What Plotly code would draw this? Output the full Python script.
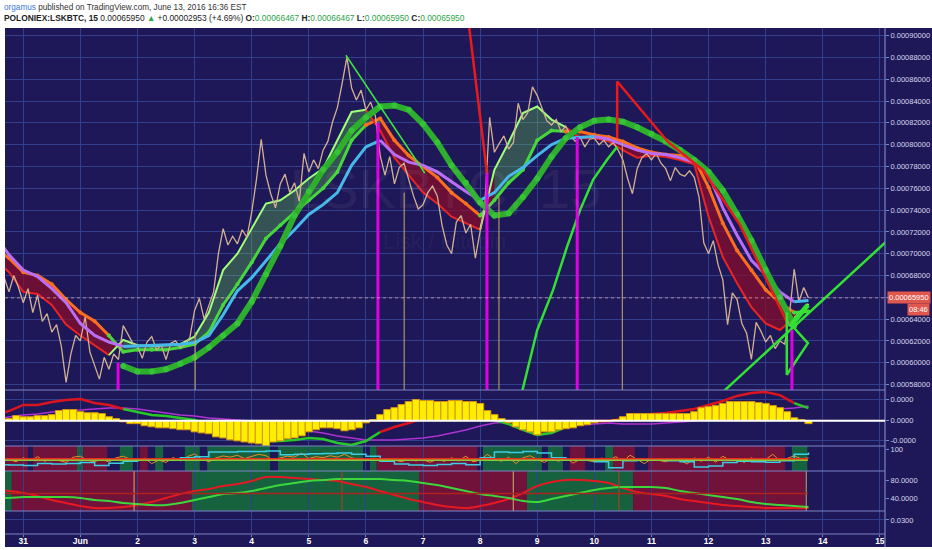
import numpy as np
import plotly.graph_objects as go
from plotly.subplots import make_subplots

# Ось времени: дни от 31 мая 2016 00:00 (31 мая = 0, 1 июня = 1, ...)
day_ticks = list(range(16))
day_labels = ['31', 'Jun'] + [str(d) for d in range(2, 16)]

# Цена LSK/BTC в сатоши, каждые 2 часа начиная с 30 мая 16:00
price = [67800, 66500, 68000, 66900,
         65500, 66800, 64600, 66200, 63800, 64500, 62800, 63500, 61500, 58200, 60800, 62500,
         62000, 64200, 61000, 59800, 58500, 60500, 59400, 60800, 60300, 63400, 62600, 61800,
         61500, 60400, 61900, 62400, 61200, 61600, 60300, 61800, 62000, 61400, 61700, 62300,
         64800, 65900, 64000, 65200, 66500, 70000, 72300, 70800, 71600, 70900, 72200, 71500,
         73800, 76800, 80500, 77200, 75500, 74200, 76400, 77300, 75600, 76500, 74800, 79200,
         77500, 78600, 77800, 79500, 80300, 82100, 83400, 85600, 88000, 85200, 84100, 85000,
         83200, 83900, 82600, 79000, 77200, 78900, 76400, 77900, 78300, 76800, 75300, 74100,
         74500, 75600, 76200, 75300, 72600, 70800, 70000, 72900, 73500, 71900, 72700, 69600,
         72100, 74500, 82500, 79300, 80100, 80800, 79600, 80200, 83800, 82300, 82900, 85300,
         84500, 83300, 82200, 81800, 82300, 81200, 81700, 80800, 80300, 80700, 79800, 80500,
         80600, 80000, 80400, 79800, 80200, 79500, 78600, 76900, 75500, 77800, 78800, 79200,
         78600, 79200, 78300, 77800, 76700, 77900, 77300, 77100, 77600, 77000, 75200, 71000,
         70000, 71200, 69000, 67600, 63500, 66400, 65800, 63600, 62700, 60300, 63700, 62900,
         61900, 62500, 61300, 62000, 61700, 64400, 68600, 65600, 66900, 65950]

# Сглаженные линии, шаг 6 часов начиная с 30 мая 12:00
ma_slow = [71700, 69900, 68500, 67900, 66800, 65500, 63600, 62500, 61900, 61500,
           61550, 61600, 61650, 61700, 61850, 62500, 64400, 66600, 67800, 69400,
           70900, 72200, 73600, 74500, 75600, 78100, 79800, 80400, 79100, 78400,
           78100, 77500, 76600, 75700, 74900, 75600, 77100, 77900, 79000, 80000,
           80600, 80700, 80750, 80500, 80000, 79500, 79200, 79100, 78800, 78400,
           77300, 74200, 71700, 69400, 68100, 66500, 65600, 65700]
hull = [None] * 9 + [59700, 59200, 59200, 59400, 59900, 60500, 61400, 62500, 63600, 65600,
                     68100, 70700, 73500, 75700, 77700, 79300, 81300, 82500, 83500, 83600,
                     83200, 81900, 80200, 78100, 76500, 74700, 73500, 73700, 75200, 76900,
                     78900, 80600, 81600, 82200, 82300, 82100, 81600, 81000, 80300, 79500,
                     78600, 77500, 75800, 73600, 71200, 68500, 66000, 63400, None]
rib_fast = [69500, 68300, 66500, 66300, 65300, 63500, 62500, 61600, 60700, 62100,
            61600, 61500, 61600, 61700, 62400, 64600, 68500, 70000, 72300, 74600,
            74900, 75800, 76900, 77800, 80400, 83000, 83200, 81300, 78800, 77200,
            75600, 74600, 73400, 72800, 72200, 77700, 80200, 82900, 83500, 82300,
            81600, 80600, 80600, 80300, 79500, 78800, 79000, 78900, 78600, 78200,
            73400, 69700, 67300, 65100, 63600, 63000, 64100, 65400]
rib_slow = [70500, 69600, 68300, 68000, 67200, 65800, 64600, 63800, 62500, 61000,
            61200, 61200, 61200, 61400, 61700, 62800, 65300, 67200, 69200, 71400,
            72600, 73800, 74900, 76000, 77500, 80400, 81800, 82400, 80400, 79000,
            78000, 77000, 75600, 74600, 73500, 74900, 76500, 77700, 80400, 81300,
            81200, 81200, 80900, 80700, 80300, 79700, 79300, 79100, 79000, 78700,
            76100, 72800, 70300, 68500, 66700, 65500, 64600, 64700]
macd = [270, 460, 750, 750, 890, 990, 1030, 840, 750, 560,
        410, 270, 220, 130, 30, -200, -440, -630, -820, -970,
        -970, -920, -820, -870, -1060, -1160, -970, -540, -300, -110,
        130, 320, 410, 370, 220, 30, -160, -440, -680, -590,
        -300, -160, -10, -10, 80, 220, 320, 370, 460, 560,
        750, 940, 1180, 1320, 1370, 1220, 840, 600]
macd_sig = [80, 180, 270, 320, 410, 460, 510, 560, 600, 600,
            560, 460, 370, 270, 220, 130, 80, 30, -10, -160,
            -300, -400, -490, -590, -730, -820, -920, -920, -920, -870,
            -820, -730, -590, -440, -250, -110, -60, -110, -110, -160,
            -200, -200, -160, -110, -160, -160, -160, -110, -60, -10,
            80, 180, 270, 370, 460, 560, 600, 700]
osc_cyan = [25, 24, 22, 30, 28, 30, 35, 22, 32, 40,
            48, 45, 50, 55, 60, 80, 80, 82, 82, 84,
            68, 70, 72, 74, 76, 70, 62, 40, 28, 24,
            22, 26, 30, 25, 55, 80, 78, 82, 76, 55,
            50, 45, 38, 12, 42, 48, 45, 42, 38, 15,
            20, 35, 40, 38, 36, 42, 70, 78]
cyc_red = [60.7, 56.5, 52.2, 45.8, 37.3, 30.9, 24.4, 20.1, 20.1, 22.2,
           26.5, 32.9, 41.5, 50.1, 56.5, 60.7, 67.2, 71.4, 77.9, 86.4,
           86.4, 84.3, 82.1, 80.0, 77.9, 71.4, 65.0, 56.5, 47.9, 39.4,
           32.9, 26.5, 22.2, 20.1, 24.4, 30.9, 39.4, 52.2, 67.2, 75.7,
           80.0, 80.0, 77.9, 73.6, 62.9, 54.3, 50.1, 45.8, 39.4, 35.1,
           30.9, 26.5, 24.4, 22.2, 20.1, 20.1, 20.1, 20.1]
cyc_green = [41.5, 41.5, 43.6, 43.6, 43.6, 43.6, 41.5, 37.2, 35.1, 30.8,
             28.7, 26.5, 26.5, 30.8, 37.2, 43.6, 50.1, 52.2, 56.5, 62.9,
             69.3, 73.6, 77.9, 80.0, 82.1, 82.1, 82.1, 82.1, 80.0, 77.9,
             73.6, 69.3, 62.9, 56.5, 50.1, 45.8, 41.5, 35.1, 32.9, 39.4,
             45.8, 52.2, 58.6, 62.9, 65.0, 65.0, 65.0, 62.9, 56.5, 52.2,
             47.9, 43.6, 39.4, 32.9, 28.7, 26.5, 24.4, 22.2]

# Гистограмма MACD и быстрый осциллятор, шаг 3 часа начиная с 30 мая 18:00
macd_hist = [100, 240, 190, 190, 240, 240, 290, 480, 530, 530,
             430, 380, 380, 340, 190, 100, -50, -140, -140, -240,
             -290, -340, -340, -380, -430, -430, -530, -580, -620, -770,
             -820, -910, -960, -1010, -1060, -1100, -1200, -1010, -960, -860,
             -820, -720, -530, -430, -340, -340, -380, -480, -430, -340,
             -100, 50, 290, 530, 620, 770, 910, 1010, 960, 960,
             910, 910, 960, 960, 910, 910, 820, 480, 290, 100,
             -100, -290, -430, -530, -670, -530, -530, -430, -380, -340,
             -240, -190, -100, -50, -20, 50, 190, 340, 340, 340,
             340, 340, 340, 340, 340, 340, 430, 620, 670, 720,
             820, 910, 910, 910, 910, 860, 820, 720, 620, 430,
             140, 50, -140]
osc_orange = [48, 38, 55, 42, 60, 40, 52, 45, 35, 58,
              62, 44, 38, 50, 36, 55, 62, 48, 40, 53,
              30, 45, 35, 56, 42, 60, 72, 50, 38, 55,
              63, 58, 66, 52, 60, 70, 64, 45, 55, 62,
              58, 75, 52, 60, 56, 64, 58, 70, 55, 48,
              42, 50, 40, 52, 44, 38, 50, 42, 46, 36,
              48, 40, 55, 42, 62, 38, 45, 70, 50, 40,
              58, 30, 55, 64, 48, 35, 52, 40, 56, 32,
              48, 42, 38, 54, 45, 60, 40, 66, 48, 30,
              50, 44, 38, 52, 46, 28, 55, 40, 58, 36,
              62, 44, 50, 35, 55, 40, 48, 70, 42, 52,
              64, 50, 55]

# Сигналы (день, цена в сатоши)
signal_days = [1.66, 6.21, 8.12, 9.70, 13.46]
signal_price = [60000, 82000, 77400, 80700, 63000]
mark_days = [3.01, 6.67, 8.33, 10.49]
mark_price = [62800, 75600, 75200, 80200]

# Трендовые линии
red_a = ([7.78, 8.12], [92000, 77400])
red_b = ([10.40, 10.40, 11.29, 11.90, 12.55, 13.38], [80600, 85800, 80250, 77680, 72640, 63650])
green_a = ([5.65, 7.03], [88200, 77400])
green_b = ([8.12, 8.12], [77400, 74000])
green_arc = ([8.70, 9.00, 9.28, 9.52, 9.75, 9.98, 10.22, 10.40],
             [56600, 63000, 66700, 70600, 74000, 76800, 78600, 79800])
green_diag = ([12.20, 15.20], [57070, 71530])
green_zig = ([13.37, 13.37, 13.74, 13.48], [64600, 58900, 61800, 63300])
green_arrow = ([13.42, 13.74], [63300, 65300])

# Фоновые зоны нижних панелей (1 - зелёная, -1 - красная)
p3_start = [-0.33, 0.17, 0.94, 1.05, 1.69, 2.04, 2.31, 2.83, 3.22, 4.46, 6.07, 6.19, 8.05, 9.19, 9.57, 10.19, 10.33, 10.94, 13.46]
p3_end = [0.08, 0.94, 1.05, 1.47, 1.92, 2.18, 2.45, 3.09, 4.32, 5.95, 6.19, 7.95, 9.08, 9.45, 9.84, 10.33, 10.71, 13.34, 13.73]
p3_state = [-1, -1, 1, -1, 1, -1, 1, 1, 1, 1, 1, -1, 1, 1, -1, 1, -1, -1, 1]
p4_start = [-0.33, -0.20, 2.95, 6.93, 8.82, 10.68]
p4_end = [-0.20, 2.95, 6.93, 8.82, 10.68, 13.69]
p4_state = [1, -1, 1, -1, 1, -1]
p4_marks = [1.94, 5.58, 8.58, 10.43, 13.71]
p4_mark_red = [False, True, False, True, False]

last_price = 65950

BG = '#1f1858'
GRID = '#323f8c'
SEP = '#7a84c8'
TXT = '#d6d8ec'
TAN = 'rgb(210,176,145)'

sat = lambda a: np.array(a, dtype=float) * 1e-8
price_t = -1 / 3 + np.arange(len(price)) / 12
t6 = -0.5 + 0.25 * np.arange(len(ma_slow))
t3 = -0.25 + 0.125 * np.arange(len(macd_hist))

fig = make_subplots(rows=5, cols=1, shared_xaxes=True, vertical_spacing=0,
                    row_heights=[362, 56, 25, 40, 23])


def add_runs(t, v, seg_state, colors, width, row, markers=False, msize=4):
    # рисуем линию кусками, цвет зависит от состояния отрезка
    n = len(seg_state)
    s = 0
    for i in range(1, n + 1):
        if i == n or seg_state[i] != seg_state[s]:
            c = colors[seg_state[s]]
            fig.add_trace(go.Scatter(x=t[s:i + 1], y=v[s:i + 1],
                                     mode='lines+markers' if markers else 'lines',
                                     line=dict(color=c, width=width),
                                     marker=dict(size=msize, color=c),
                                     hoverinfo='skip', showlegend=False), row=row, col=1)
            s = i


# --- Основная панель ---
rf = sat(rib_fast)
rs = sat(rib_slow)
up = rf >= rs
s = 0
for i in range(1, len(up) + 1):
    if i == len(up) or up[i] != up[s]:
        e = min(i, len(up) - 1)
        xs = np.concatenate([t6[s:e + 1], t6[s:e + 1][::-1]])
        ys = np.concatenate([rf[s:e + 1], rs[s:e + 1][::-1]])
        fig.add_trace(go.Scatter(x=xs, y=ys, fill='toself', mode='lines', line=dict(width=0),
                                 fillcolor='rgba(110,235,80,0.28)' if up[s] else 'rgba(140,12,40,0.7)',
                                 hoverinfo='skip', showlegend=False), row=1, col=1)
        s = i

seg_up = list(up[1:])
add_runs(t6, rs, seg_up, {True: 'rgb(70,215,60)', False: 'rgb(250,110,30)'}, 3, 1, markers=True, msize=4)
add_runs(t6, rf, seg_up, {True: 'rgb(160,255,120)', False: 'rgb(235,35,35)'}, 2, 1)

fig.add_trace(go.Scatter(x=price_t, y=sat(price), mode='lines', line=dict(color=TAN, width=1.3),
                         hoverinfo='skip', showlegend=False), row=1, col=1)

ma = sat(ma_slow)
add_runs(t6, ma, [ma[i + 1] > ma[i] for i in range(len(ma) - 1)],
         {True: 'rgb(70,185,235)', False: 'rgb(185,110,245)'}, 3, 1)

fig.add_trace(go.Scatter(x=t6, y=sat(hull), mode='lines+markers',
                         line=dict(color='rgb(45,175,45)', width=6),
                         marker=dict(size=6, color='rgb(55,195,55)'),
                         hoverinfo='skip', showlegend=False), row=1, col=1)

for (lx, ly), c, w in [(red_a, 'rgb(235,25,25)', 2.5), (red_b, 'rgb(235,25,25)', 2.5),
                       (green_a, 'rgb(60,230,60)', 1.5), (green_b, 'rgb(60,230,60)', 2),
                       (green_arc, 'rgb(50,225,50)', 2.5), (green_diag, 'rgb(50,225,50)', 2.5),
                       (green_zig, 'rgb(50,225,50)', 2.5), (green_arrow, 'rgb(50,225,50)', 5)]:
    fig.add_trace(go.Scatter(x=lx, y=sat(ly), mode='lines', line=dict(color=c, width=w),
                             hoverinfo='skip', showlegend=False), row=1, col=1)

main_range = [0.000575, 0.000907]
sx, sy = [], []
for d, p in zip(signal_days, signal_price):
    sx += [d, d, None]
    sy += [p * 1e-8, main_range[0], None]
fig.add_trace(go.Scatter(x=sx, y=sy, mode='lines', line=dict(color='rgb(225,0,230)', width=3),
                         hoverinfo='skip', showlegend=False), row=1, col=1)
mx, my = [], []
for d, p in zip(mark_days, mark_price):
    mx += [d, d, None]
    my += [p * 1e-8, main_range[0], None]
fig.add_trace(go.Scatter(x=mx, y=my, mode='lines', line=dict(color='rgb(200,170,100)', width=1),
                         hoverinfo='skip', showlegend=False), row=1, col=1)

# --- MACD ---
macd_range = [-1205, 1462]
mid = (t6[:-1] + t6[1:]) / 2
macd_green = [np.searchsorted(signal_days, m) % 2 == 1 for m in mid]
fig.add_trace(go.Scatter(x=t6, y=macd_sig, mode='lines', line=dict(color='rgb(175,50,210)', width=1.5),
                         hoverinfo='skip', showlegend=False), row=2, col=1)
add_runs(t6, np.array(macd, dtype=float), macd_green,
         {True: 'rgb(40,200,40)', False: 'rgb(220,20,30)'}, 2.5, 2)
fig.add_trace(go.Bar(x=t3, y=macd_hist, width=0.125, xaxis='x2', yaxis='y6',
                     marker=dict(color='rgb(255,238,0)', line=dict(color='rgb(215,150,20)', width=1)),
                     hoverinfo='skip', showlegend=False))

# --- Осциллятор ---
fig.add_trace(go.Scatter(x=t3, y=osc_orange, mode='lines', line=dict(color='rgb(235,140,35)', width=1),
                         hoverinfo='skip', showlegend=False), row=3, col=1)
fig.add_trace(go.Scatter(x=t6, y=osc_cyan, mode='lines', line=dict(color='rgb(60,205,225)', width=1.5, shape='hv'),
                         hoverinfo='skip', showlegend=False), row=3, col=1)

# --- Циклы ---
fig.add_trace(go.Scatter(x=t6, y=cyc_red, mode='lines', line=dict(color='rgb(230,25,35)', width=2, shape='spline'),
                         hoverinfo='skip', showlegend=False), row=4, col=1)
fig.add_trace(go.Scatter(x=t6, y=cyc_green, mode='lines', line=dict(color='rgb(60,215,60)', width=2, shape='spline'),
                         hoverinfo='skip', showlegend=False), row=4, col=1)
p4_range = [13.7, 99.3]
for d, r in zip(p4_marks, p4_mark_red):
    fig.add_trace(go.Scatter(x=[d, d], y=p4_range, mode='lines',
                             line=dict(color='rgb(180,60,40)' if r else 'rgb(205,180,110)', width=1),
                             hoverinfo='skip', showlegend=False), row=4, col=1)

# пустая нижняя панель (нужна, чтобы ось времени была с подписями)
p5_range = [0.015, 0.0396]
fig.add_trace(go.Scatter(x=[day_ticks[0]], y=[None], mode='lines', hoverinfo='skip', showlegend=False), row=5, col=1)

# --- Фоны и линии ---
shapes = [dict(type='rect', xref='paper', yref='paper', x0=0, x1=927 / 880, y0=-13 / 506, y1=1,
               fillcolor=BG, line=dict(width=0), layer='below')]
RED_BG, GREEN_BG = 'rgb(112,18,58)', 'rgb(22,98,62)'
for a, b, st in zip(p3_start, p3_end, p3_state):
    shapes.append(dict(type='rect', xref='x3', yref='y3', x0=a, x1=b, y0=-2, y1=106,
                       fillcolor=GREEN_BG if st > 0 else RED_BG, line=dict(width=0), layer='below'))
for a, b, st in zip(p4_start, p4_end, p4_state):
    shapes.append(dict(type='rect', xref='x4', yref='y4', x0=a, x1=b, y0=p4_range[0], y1=p4_range[1],
                       fillcolor=GREEN_BG if st > 0 else RED_BG, line=dict(width=0), layer='below'))
for yp in [144 / 506, 88 / 506, 63 / 506, 23 / 506, 0]:
    shapes.append(dict(type='line', xref='paper', yref='paper', x0=0, x1=1, y0=yp, y1=yp,
                       line=dict(color=SEP, width=1.2)))
shapes.append(dict(type='line', xref='paper', yref='paper', x0=1, x1=1, y0=-13 / 506, y1=1,
                   line=dict(color=SEP, width=1.2)))
shapes.append(dict(type='line', xref='x2', yref='y2', x0=-0.33, x1=15.1, y0=0, y1=0,
                   line=dict(color='white', width=2)))
shapes.append(dict(type='line', xref='x3', yref='y3', x0=-0.33, x1=13.74, y0=50, y1=50,
                   line=dict(color='rgb(230,45,30)', width=2)))
shapes.append(dict(type='line', xref='x3', yref='y3', x0=-0.33, x1=13.74, y0=44, y1=44,
                   line=dict(color='rgb(140,200,60)', width=1.5)))
shapes.append(dict(type='line', xref='x4', yref='y4', x0=-0.33, x1=13.74, y0=51, y1=51,
                   line=dict(color='rgb(175,35,30)', width=1.5)))
shapes.append(dict(type='line', xref='paper', yref='y', x0=0, x1=1, y0=last_price * 1e-8, y1=last_price * 1e-8,
                   line=dict(color='rgba(240,175,165,0.7)', width=1, dash='dot')))

annotations = [
    dict(text='<span style="color:#3b78d4">orgamus</span> published on TradingView.com, June 13, 2016 16:36 EST',
         xref='paper', yref='paper', x=0, xshift=-3, y=1.0415, xanchor='left', yanchor='middle',
         showarrow=False, font=dict(size=8.2, color='#333333', family='Liberation Sans')),
    dict(text='<b>POLONIEX:LSKBTC, 15</b> 0.00065950 <span style="color:#2ca44a">▲</span> +0.00002953 (+4.69%) '
              '<b>O:</b><span style="color:#2ca44a">0.00066467</span> <b>H:</b><span style="color:#2ca44a">0.00066467</span> '
              '<b>L:</b><span style="color:#2ca44a">0.00065950</span> <b>C:</b><span style="color:#2ca44a">0.00065950</span>',
         xref='paper', yref='paper', x=0, xshift=-3, y=1.0198, xanchor='left', yanchor='middle',
         showarrow=False, font=dict(size=8.4, color='#222222', family='Liberation Sans')),
    dict(text='LSKBTC, 15', xref='x', yref='y', x=7.39, y=0.00076, showarrow=False,
         font=dict(size=56, color='rgba(255,255,255,0.05)', family='Liberation Sans')),
    dict(text='Lisk / Bitcoin', xref='x', yref='y', x=7.39, y=0.000711, showarrow=False,
         font=dict(size=22, color='rgba(255,255,255,0.05)', family='Liberation Sans')),
    dict(text='0.00065950', xref='paper', yref='y', x=1, xshift=2, y=last_price * 1e-8, xanchor='left',
         showarrow=False, bgcolor='#e0574e', borderpad=1, font=dict(size=7.5, color='white', family='Liberation Sans')),
    dict(text='08:46', xref='paper', yref='y', x=925 / 880, y=last_price * 1e-8, yshift=-12, xanchor='right',
         showarrow=False, bgcolor='#e0574e', borderpad=1, font=dict(size=7.5, color='white', family='Liberation Sans')),
]

fig.update_xaxes(range=[-0.32, 15.09], tickvals=day_ticks, ticktext=['<b>%s</b>' % lab for lab in day_labels],
                 showgrid=True, gridcolor=GRID, gridwidth=1, zeroline=False, showline=False,
                 showticklabels=False, ticks='')
fig.update_yaxes(side='right', zeroline=False, showline=False, ticks='outside', ticklen=3, tickcolor=SEP,
                 tickfont=dict(size=7.5, color=TXT, family='Liberation Sans'), gridcolor=GRID)
fig.update_yaxes(range=main_range, dtick=0.00002, tick0=0.00058, tickformat='.8f', showgrid=True, row=1, col=1)
fig.update_yaxes(range=macd_range, tickvals=[-930, 0, 1000], ticktext=['-0.0000', '0.0000', '0.0000'],
                 showgrid=True, row=2, col=1)
fig.update_yaxes(range=[-2, 106], tickvals=[90], ticktext=['100'], showgrid=False, row=3, col=1)
fig.update_yaxes(range=p4_range, tickvals=[80, 40], ticktext=['80.0000', '40.0000'], showgrid=False, row=4, col=1)
fig.update_yaxes(range=p5_range, tickvals=[0.03], ticktext=['0.0300'], showgrid=True, row=5, col=1)

fig.update_layout(
    width=932, height=550,
    margin=dict(l=5, r=47, t=28, b=16, autoexpand=False),
    paper_bgcolor='white', plot_bgcolor=BG,
    yaxis6=dict(overlaying='y2', range=macd_range, visible=False, showgrid=False),
    shapes=shapes, annotations=annotations,
    showlegend=False, hovermode=False,
)
fig.layout.xaxis5.update(showticklabels=True, ticks='outside', ticklen=2, tickcolor=SEP,
                         ticklabelposition='outside', ticklabelstandoff=-3, automargin=False,
                         tickfont=dict(size=8.5, color='white', family='Liberation Sans'))

fig.write_html("out.html", config={'displayModeBar': False},
               post_script="document.body.style.margin='0px';")
